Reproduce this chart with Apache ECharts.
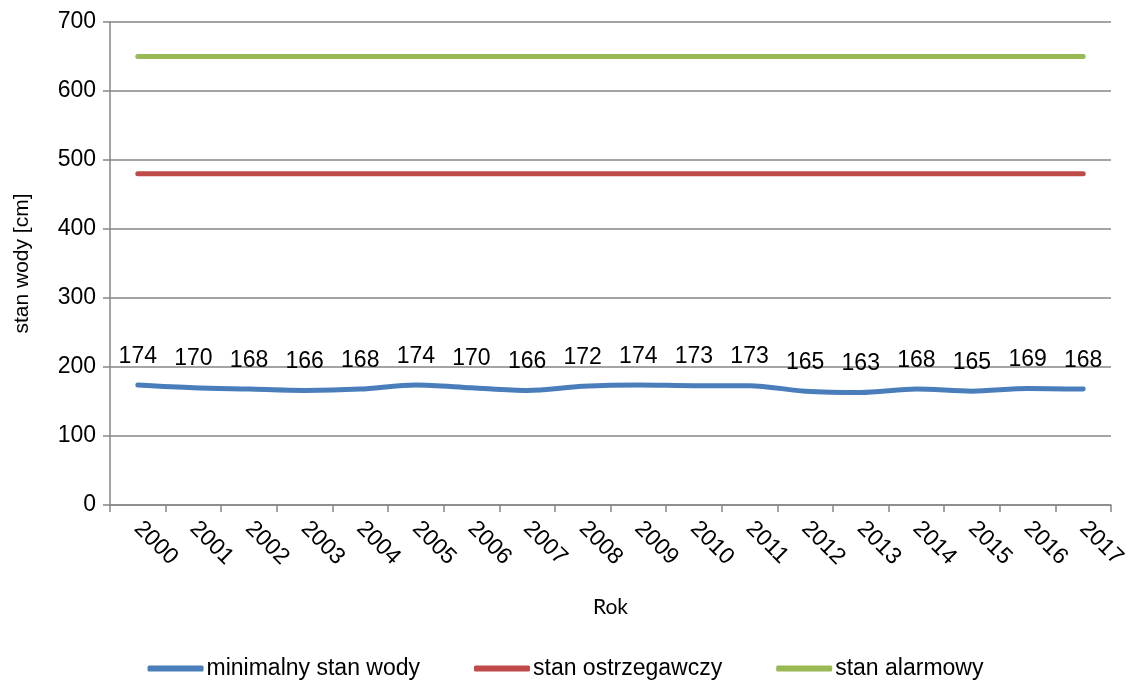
<!DOCTYPE html>
<html lang="pl">
<head>
    <meta charset="UTF-8">
    <title>Stan wody</title>
    <script src="https://cdn.jsdelivr.net/npm/echarts/dist/echarts.min.js"></script>
    <style>
        html, body { margin: 0; padding: 0; background: #fff; }
        #chart { width: 1131px; height: 682px; }
    </style>
</head>
<body>
    <div id="chart"></div>
    <script>
        var years = ['2000', '2001', '2002', '2003', '2004', '2005', '2006', '2007', '2008',
            '2009', '2010', '2011', '2012', '2013', '2014', '2015', '2016', '2017'];
        var minStan = [174, 170, 168, 166, 168, 174, 170, 166, 172, 174, 173, 173, 165, 163, 168, 165, 169, 168];
        var ostrzegawczy = [480, 480, 480, 480, 480, 480, 480, 480, 480, 480, 480, 480, 480, 480, 480, 480, 480, 480];
        var alarmowy = [650, 650, 650, 650, 650, 650, 650, 650, 650, 650, 650, 650, 650, 650, 650, 650, 650, 650];

        var font = 'Liberation Sans, Arial, sans-serif';
        var myChart = echarts.init(document.getElementById('chart'));

        function lineSeries(name, data, color) {
            return {
                name: name,
                type: 'line',
                data: data,
                symbol: 'circle',
                symbolSize: 0.1,
                showSymbol: true,
                smooth: 0.3,
                animation: false,
                lineStyle: { color: color, width: 5, cap: 'round' },
                itemStyle: { color: color }
            };
        }

        var blue = lineSeries('minimalny stan wody', minStan, '#4a7ebb');
        blue.label = {
            show: true,
            position: 'top',
            distance: 17,
            color: '#000',
            fontFamily: font,
            fontSize: 23
        };

        myChart.setOption({
            backgroundColor: '#fff',
            grid: { left: 110, right: 20, top: 22, bottom: 177 },
            legend: {
                bottom: -3,
                left: 'center',
                icon: 'roundRect',
                itemWidth: 56,
                itemHeight: 6,
                itemGap: 54,
                textStyle: { color: '#000', fontFamily: font, fontSize: 23, padding: [0, 0, 0, -2] },
                data: ['minimalny stan wody', 'stan ostrzegawczy', 'stan alarmowy']
            },
            xAxis: {
                type: 'category',
                data: years,
                boundaryGap: true,
                name: 'Rok',
                nameLocation: 'middle',
                nameGap: 92,
                nameTextStyle: { color: '#000', fontFamily: 'Lato, Open Sans, sans-serif', fontSize: 21 },
                axisLine: { lineStyle: { color: '#868686', width: 1.5 } },
                axisTick: { show: true, length: 7, lineStyle: { color: '#868686', width: 1.5 } },
                axisLabel: {
                    rotate: -45,
                    color: '#000',
                    fontFamily: font,
                    fontSize: 23,
                    margin: 20
                }
            },
            yAxis: {
                type: 'value',
                min: 0,
                max: 700,
                interval: 100,
                name: 'stan wody [cm]',
                nameLocation: 'middle',
                nameGap: 77,
                nameTextStyle: { color: '#000', fontFamily: font, fontSize: 21 },
                axisLine: { show: true, lineStyle: { color: '#868686', width: 1.5 } },
                axisTick: { show: true, length: 7, lineStyle: { color: '#868686', width: 1.5 } },
                axisLabel: { color: '#000', fontFamily: font, fontSize: 23, margin: 14 },
                splitLine: { lineStyle: { color: '#868686', width: 1.5 } }
            },
            series: [
                blue,
                lineSeries('stan ostrzegawczy', ostrzegawczy, '#be4b48'),
                lineSeries('stan alarmowy', alarmowy, '#98b954')
            ]
        });
    </script>
</body>
</html>
